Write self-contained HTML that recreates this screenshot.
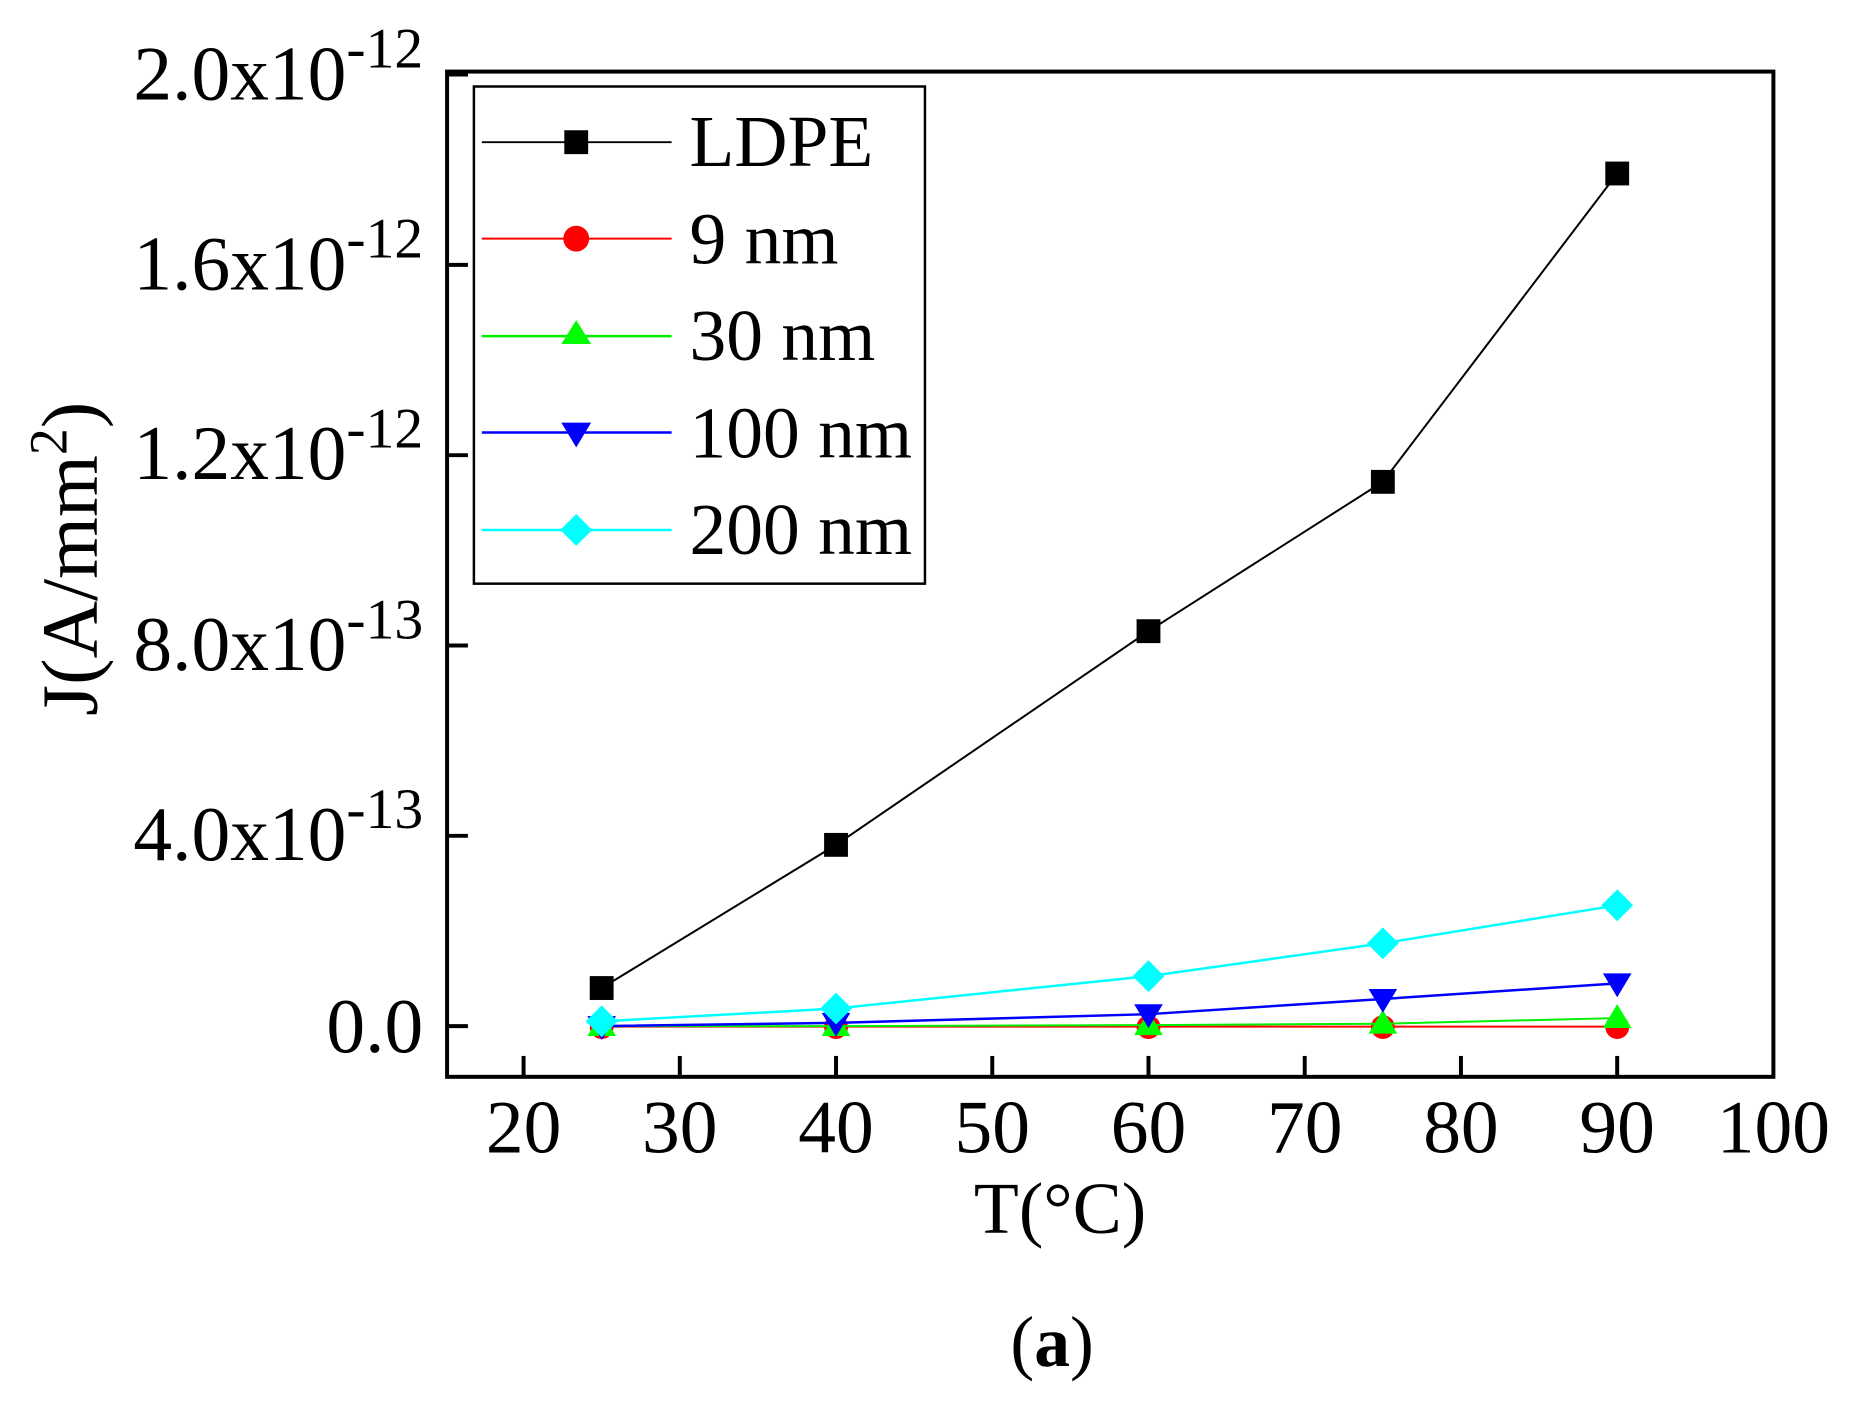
<!DOCTYPE html>
<html><head><meta charset="utf-8"><style>html,body{margin:0;padding:0;background:#fff}svg{display:block}text{font-family:"Liberation Serif",serif;fill:#000}</style></head>
<body>
<svg width="1857" height="1411" viewBox="0 0 1857 1411" xmlns="http://www.w3.org/2000/svg">
<rect x="0" y="0" width="1857" height="1411" fill="#fff"/>
<g transform="scale(0.9935,0.9943)">
<rect x="450" y="72" width="1335" height="1011" fill="none" stroke="#000" stroke-width="4"/>
<g stroke="#000" stroke-width="4">
<line x1="450" y1="1032" x2="471" y2="1032"/>
<line x1="450" y1="840.6" x2="471" y2="840.6"/>
<line x1="450" y1="649.2" x2="471" y2="649.2"/>
<line x1="450" y1="457.8" x2="471" y2="457.8"/>
<line x1="450" y1="266.4" x2="471" y2="266.4"/>
<line x1="450" y1="75" x2="471" y2="75"/>
<line x1="527" y1="1083" x2="527" y2="1062"/>
<line x1="684.25" y1="1083" x2="684.25" y2="1062"/>
<line x1="841.5" y1="1083" x2="841.5" y2="1062"/>
<line x1="998.75" y1="1083" x2="998.75" y2="1062"/>
<line x1="1156" y1="1083" x2="1156" y2="1062"/>
<line x1="1313.25" y1="1083" x2="1313.25" y2="1062"/>
<line x1="1470.5" y1="1083" x2="1470.5" y2="1062"/>
<line x1="1627.75" y1="1083" x2="1627.75" y2="1062"/>
</g>
<g font-size="78" text-anchor="end">
<text x="426" y="1058">0.0</text>
<text x="426" y="865"><tspan>4.0x10</tspan><tspan font-size="58" dy="-32">-13</tspan></text>
<text x="426" y="674"><tspan>8.0x10</tspan><tspan font-size="58" dy="-32">-13</tspan></text>
<text x="426" y="482"><tspan>1.2x10</tspan><tspan font-size="58" dy="-32">-12</tspan></text>
<text x="426" y="291"><tspan>1.6x10</tspan><tspan font-size="58" dy="-32">-12</tspan></text>
<text x="426" y="100"><tspan>2.0x10</tspan><tspan font-size="58" dy="-32">-12</tspan></text>
</g>
<g font-size="76" text-anchor="middle">
<text x="527" y="1159">20</text>
<text x="684.25" y="1159">30</text>
<text x="841.5" y="1159">40</text>
<text x="998.75" y="1159">50</text>
<text x="1156" y="1159">60</text>
<text x="1313.25" y="1159">70</text>
<text x="1470.5" y="1159">80</text>
<text x="1627.75" y="1159">90</text>
<text x="1785" y="1159">100</text>
</g>
<text x="1067" y="1240" font-size="74" text-anchor="middle">T(°C)</text>
<text x="1059" y="1374" font-size="72" text-anchor="middle">(<tspan font-weight="bold">a</tspan>)</text>
<text transform="translate(97,562) rotate(-90)" font-size="80" text-anchor="middle">J(A/mm<tspan font-size="54" dy="-30">2</tspan><tspan dy="30">)</tspan></text>
<polyline fill="none" stroke="#ff0000" stroke-width="2" points="605.6,1032.5 841.5,1032.5 1156,1032.5 1391.9,1032.5 1627.8,1032.5"/>
<g fill="#ff0000"><circle cx="605.6" cy="1033" r="12"/><circle cx="841.5" cy="1033" r="12"/><circle cx="1156" cy="1033" r="12"/><circle cx="1391.9" cy="1033" r="12"/><circle cx="1627.8" cy="1033" r="12"/></g>
<polyline fill="none" stroke="#00ee00" stroke-width="2" points="605.6,1032 841.5,1032 1156,1031 1391.9,1029.6 1627.8,1023.9"/>
<g fill="#00ff00">
<polygon points="605.6,1018 620,1042 591.2,1042"/><polygon points="841.5,1018 855.9,1042 827.1,1042"/><polygon points="1156,1017 1170.4,1041 1141.6,1041"/><polygon points="1391.9,1015.6 1406.3,1039.6 1377.5,1039.6"/><polygon points="1627.8,1009.9 1642.2,1033.9 1613.4,1033.9"/></g>
<polyline fill="none" stroke="#0000ff" stroke-width="2.5" points="605.6,1032 841.5,1028.7 1156,1020 1391.9,1004.7 1627.8,989"/>
<g fill="#0000ff">
<polygon points="591.2,1022 620,1022 605.6,1046"/><polygon points="827.1,1018.7 855.9,1018.7 841.5,1042.7"/><polygon points="1141.6,1010 1170.4,1010 1156,1034"/><polygon points="1377.5,994.7 1406.3,994.7 1391.9,1018.7"/><polygon points="1613.4,979 1642.2,979 1627.8,1003"/></g>
<polyline fill="none" stroke="#00ffff" stroke-width="2.5" points="605.6,1027.2 841.5,1014.3 1156,981.8 1391.9,948.7 1627.8,910.5"/>
<g fill="#00ffff">
<polygon points="605.6,1011.2 621.6,1027.2 605.6,1043.2 589.6,1027.2"/><polygon points="841.5,998.3 857.5,1014.3 841.5,1030.3 825.5,1014.3"/><polygon points="1156,965.8 1172,981.8 1156,997.8 1140,981.8"/><polygon points="1391.9,932.7 1407.9,948.7 1391.9,964.7 1375.9,948.7"/><polygon points="1627.8,894.5 1643.8,910.5 1627.8,926.5 1611.8,910.5"/></g>
<polyline fill="none" stroke="#000" stroke-width="2" points="605.6,993.7 841.5,849.7 1156,634.8 1391.9,484.6 1627.8,174.5"/>
<g fill="#000">
<rect x="593.6" y="981.7" width="24" height="24"/><rect x="829.5" y="837.7" width="24" height="24"/><rect x="1144" y="622.8" width="24" height="24"/><rect x="1379.9" y="472.6" width="24" height="24"/><rect x="1615.8" y="162.5" width="24" height="24"/></g>
<rect x="477" y="87" width="454" height="500" fill="#fff" stroke="#000" stroke-width="2.5"/>
<line x1="485" y1="143" x2="676" y2="143" stroke="#000" stroke-width="2"/>
<rect x="568" y="131" width="24" height="24" fill="#000"/>
<line x1="485" y1="240" x2="676" y2="240" stroke="#ff0000" stroke-width="2"/>
<circle cx="580" cy="240" r="13" fill="#ff0000"/>
<line x1="485" y1="338" x2="676" y2="338" stroke="#00ee00" stroke-width="2.5"/>
<polygon points="580,322 595,346 565,346" fill="#00ff00"/>
<line x1="485" y1="435" x2="676" y2="435" stroke="#0000ff" stroke-width="2.5"/>
<polygon points="565,425 595,425 580,450" fill="#0000ff"/>
<line x1="485" y1="533" x2="676" y2="533" stroke="#00ffff" stroke-width="2.5"/>
<polygon points="580,517 596,533 580,549 564,533" fill="#00ffff"/>
<g font-size="74">
<text x="694" y="167">LDPE</text>
<text x="694" y="265">9 nm</text>
<text x="694" y="362">30 nm</text>
<text x="694" y="460">100 nm</text>
<text x="694" y="557">200 nm</text>
</g>
</g>
</svg>
</body></html>
